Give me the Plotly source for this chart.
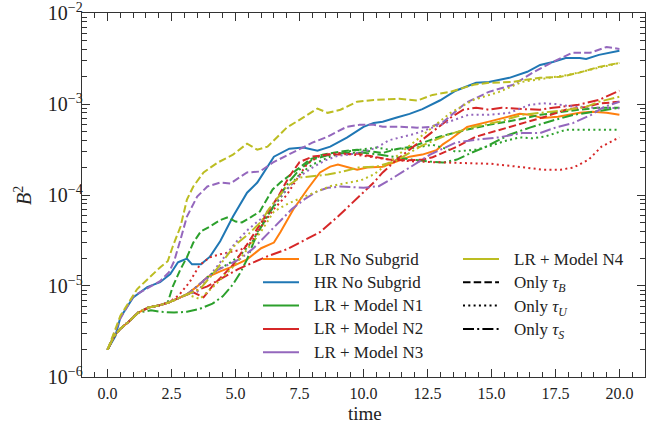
import plotly.graph_objects as go

# ---------------- data ----------------
t_lr = [0, 0.25, 0.5, 0.8, 1.2, 1.6, 2.0, 2.4, 2.8, 3.1, 3.5, 3.9, 4.4, 4.8, 5.45, 6.0, 6.5, 6.75, 7.25, 7.8, 8.3, 8.7, 9.0, 9.35, 9.75, 10.15, 10.75, 11.8, 12.3, 12.85, 13.1, 13.4, 14.05, 14.9, 15.7, 16.1, 16.5, 17.0, 17.6, 18.45, 18.95, 19.5, 20.0]
b2_lr = [2.0e-6, 2.8e-6, 3.4e-6, 4.0e-6, 5.1e-6, 5.8e-6, 6.1e-6, 6.6e-6, 7.4e-6, 8.1e-6, 9.9e-6, 1.25e-5, 1.45e-5, 1.6e-5, 1.96e-5, 2.6e-5, 3.0e-5, 3.9e-5, 6.9e-5, 1.15e-4, 1.77e-4, 2.05e-4, 2.16e-4, 2.05e-4, 1.9e-4, 2.0e-4, 2.05e-4, 2.64e-4, 2.78e-4, 3.1e-4, 3.6e-4, 4.1e-4, 5.6e-4, 6.4e-4, 7.25e-4, 7.8e-4, 7.6e-4, 7.0e-4, 7.25e-4, 8.0e-4, 8.2e-4, 8.0e-4, 7.6e-4]

t_hr = [0, 0.3, 0.5, 1.0, 1.55, 2.05, 2.45, 2.75, 2.85, 3.1, 3.3, 3.65, 4.0, 4.4, 4.9, 5.45, 5.85, 6.1, 6.5, 7.1, 7.65, 8.2, 8.7, 9.35, 10.0, 10.4, 10.75, 11.3, 11.8, 12.3, 13.0, 13.6, 14.4, 14.9, 15.7, 16.4, 16.9, 17.4, 17.9, 18.45, 18.7, 19.2, 19.7, 20.0]
b2_hr = [2.0e-6, 2.8e-6, 4.5e-6, 7.5e-6, 9.7e-6, 1.1e-5, 1.35e-5, 1.82e-5, 1.87e-5, 2.0e-5, 1.73e-5, 1.73e-5, 2.1e-5, 3.1e-5, 5.8e-5, 1.06e-4, 1.37e-4, 1.77e-4, 2.64e-4, 3.23e-4, 3.32e-4, 3.07e-4, 3.4e-4, 4.27e-4, 5.6e-4, 6.2e-4, 6.4e-4, 7.1e-4, 7.8e-4, 8.8e-4, 1.1e-3, 1.4e-3, 1.71e-3, 1.75e-3, 1.94e-3, 2.26e-3, 2.69e-3, 2.9e-3, 3.21e-3, 3.21e-3, 3.13e-3, 3.47e-3, 3.74e-3, 3.84e-3]

# Model N1 (green)
t_n1_b = [0, 0.25, 0.5, 0.8, 1.2, 1.6, 2.0, 2.35, 2.55, 2.85, 3.1, 3.35, 3.65, 4.0, 4.4, 4.7, 5.0, 5.25, 5.6, 5.95, 6.45, 6.75, 7.4, 7.9, 8.4, 9.1, 9.75, 10.25, 10.75, 11.3, 11.9, 13.0, 14.0, 14.9, 16.0, 16.9, 17.7, 18.4, 19.2, 20.0]
b2_n1_b = [2.0e-6, 2.8e-6, 3.4e-6, 4.0e-6, 5.1e-6, 5.8e-6, 6.1e-6, 6.6e-6, 9.9e-6, 1.53e-5, 2.07e-5, 3.0e-5, 4.0e-5, 4.5e-5, 5.3e-5, 5.7e-5, 5.1e-5, 5.0e-5, 5.7e-5, 6.6e-5, 1.15e-4, 1.37e-4, 1.9e-4, 2.45e-4, 2.78e-4, 3.0e-4, 3.15e-4, 3.0e-4, 2.9e-4, 3.2e-4, 3.4e-4, 4.4e-4, 5.2e-4, 5.9e-4, 6.7e-4, 7.6e-4, 8.2e-4, 8.65e-4, 9.1e-4, 9.1e-4]
t_n1_u = [0, 0.25, 0.5, 0.8, 1.2, 1.6, 2.0, 2.4, 2.8, 3.1, 3.5, 3.9, 4.3, 4.7, 5.2, 5.7, 6.0, 6.5, 7.0, 7.5, 8.0, 8.7, 9.3, 10.0, 10.5, 11.0, 12.0, 12.7, 13.6, 14.4, 15.0, 15.5, 16.1, 16.6, 17.1, 17.9, 19.0, 20.0]
b2_n1_u = [2.0e-6, 2.8e-6, 3.4e-6, 4.0e-6, 5.1e-6, 5.8e-6, 6.1e-6, 6.6e-6, 7.4e-6, 8.1e-6, 9.9e-6, 1.25e-5, 1.53e-5, 1.73e-5, 2.2e-5, 3.2e-5, 4.7e-5, 7.5e-5, 1.15e-4, 1.68e-4, 2.16e-4, 2.64e-4, 3.0e-4, 3.15e-4, 3.32e-4, 3.15e-4, 3.3e-4, 3.57e-4, 3.0e-4, 3.15e-4, 3.5e-4, 3.9e-4, 4.3e-4, 4.2e-4, 4.4e-4, 5.2e-4, 5.2e-4, 5.2e-4]
t_n1_s = [0, 0.25, 0.5, 0.8, 1.2, 1.7, 2.1, 2.6, 3.1, 3.6, 4.1, 4.5, 4.9, 5.2, 5.45, 5.7, 5.95, 6.35, 6.75, 7.1, 7.5, 8.0, 8.7, 9.35, 10.0, 10.6, 11.3, 11.9, 12.6, 13.1, 13.65, 14.2, 14.7, 15.2, 15.7, 16.5, 17.4, 18.2, 19.0, 20.0]
b2_n1_s = [2.0e-6, 2.8e-6, 3.4e-6, 4.0e-6, 5.1e-6, 5.4e-6, 5.2e-6, 5.1e-6, 5.2e-6, 5.6e-6, 6.4e-6, 7.7e-6, 1.04e-5, 1.42e-5, 1.96e-5, 3.0e-5, 4.2e-5, 6.6e-5, 1.01e-4, 1.41e-4, 1.9e-4, 2.45e-4, 2.78e-4, 2.92e-4, 2.92e-4, 2.78e-4, 2.58e-4, 2.45e-4, 2.33e-4, 2.27e-4, 2.45e-4, 2.9e-4, 3.3e-4, 3.86e-4, 4.6e-4, 5.5e-4, 6.6e-4, 7.6e-4, 8.2e-4, 9.1e-4]

# Model N2 (red)
t_n2_b = [0, 0.25, 0.5, 0.8, 1.2, 1.6, 2.0, 2.4, 2.8, 3.1, 3.35, 3.75, 4.1, 4.5, 4.9, 5.5, 6.1, 6.7, 7.1, 7.5, 8.0, 8.6, 9.1, 9.75, 10.4, 11.0, 11.7, 12.3, 12.7, 13.65, 14.4, 15.3, 16.2, 17.1, 17.9, 18.7, 19.2, 20.0]
b2_n2_b = [2.0e-6, 2.8e-6, 3.4e-6, 4.0e-6, 5.1e-6, 5.8e-6, 6.1e-6, 6.6e-6, 7.4e-6, 8.1e-6, 8.5e-6, 7.5e-6, 1.0e-5, 1.3e-5, 1.7e-5, 3.0e-5, 5.5e-5, 1.0e-4, 1.6e-4, 2.3e-4, 2.64e-4, 2.78e-4, 2.78e-4, 2.85e-4, 2.64e-4, 2.45e-4, 2.4e-4, 2.45e-4, 2.6e-4, 3.4e-4, 4.38e-4, 5.2e-4, 6.2e-4, 7.25e-4, 8.65e-4, 9.3e-4, 1.01e-3, 1.06e-3]
t_n2_u = [0, 0.25, 0.5, 0.8, 1.2, 1.6, 2.0, 2.4, 2.8, 3.2, 3.6, 4.0, 4.4, 4.8, 5.2, 5.6, 6.0, 6.5, 7.0, 7.4, 7.8, 8.3, 9.0, 10.0, 11.0, 12.0, 13.0, 14.0, 15.0, 16.0, 17.0, 17.7, 18.2, 18.8, 19.3, 20.0]
b2_n2_u = [2.0e-6, 2.8e-6, 3.4e-6, 4.0e-6, 5.1e-6, 5.8e-6, 6.1e-6, 6.6e-6, 8.0e-6, 1.1e-5, 1.7e-5, 2.07e-5, 2.23e-5, 2.34e-5, 2.5e-5, 3.0e-5, 4.5e-5, 7.0e-5, 1.0e-4, 1.5e-4, 2.2e-4, 2.7e-4, 2.9e-4, 2.7e-4, 2.45e-4, 2.33e-4, 2.3e-4, 2.27e-4, 2.2e-4, 2.05e-4, 1.9e-4, 1.9e-4, 2.0e-4, 2.45e-4, 3.4e-4, 4.3e-4]
t_n2_s = [0, 0.25, 0.5, 0.8, 1.2, 1.6, 2.0, 2.4, 2.8, 3.1, 3.5, 3.9, 4.4, 5.1, 5.7, 6.25, 7.0, 7.5, 8.3, 9.0, 9.5, 10.0, 10.4, 10.75, 11.3, 11.8, 12.3, 12.9, 13.4, 13.9, 14.4, 14.9, 15.4, 16.2, 16.9, 17.4, 18.4, 19.2, 20.0]
b2_n2_s = [2.0e-6, 2.8e-6, 3.4e-6, 4.0e-6, 5.1e-6, 5.8e-6, 6.1e-6, 6.6e-6, 7.4e-6, 8.1e-6, 9.0e-6, 9.9e-6, 1.19e-5, 1.53e-5, 1.82e-5, 2.12e-5, 2.53e-5, 3.0e-5, 3.9e-5, 5.8e-5, 7.9e-5, 1.05e-4, 1.37e-4, 1.77e-4, 2.45e-4, 3.15e-4, 4.06e-4, 5.6e-4, 7.07e-4, 8.65e-4, 9.1e-4, 8.65e-4, 9.1e-4, 8.8e-4, 8.65e-4, 9.1e-4, 9.8e-4, 1.11e-3, 1.4e-3]

# Model N3 (purple)
t_n3_b = [0, 0.5, 1.0, 1.7, 2.05, 2.4, 2.6, 2.85, 3.1, 3.5, 3.9, 4.4, 4.8, 5.45, 5.95, 6.45, 7.25, 8.0, 8.6, 9.35, 9.85, 10.4, 10.75, 11.4, 12.1, 12.6, 13.1, 13.6, 14.0, 14.9, 15.85, 16.6, 17.4, 18.15, 18.85, 19.5, 20.0]
b2_n3_b = [2.0e-6, 4.4e-6, 7.7e-6, 9.9e-6, 1.13e-5, 1.42e-5, 1.87e-5, 3.25e-5, 5.8e-5, 9.6e-5, 1.24e-4, 1.37e-4, 1.34e-4, 1.77e-4, 1.81e-4, 2.27e-4, 2.92e-4, 3.76e-4, 4.38e-4, 5.63e-4, 5.9e-4, 5.9e-4, 5.63e-4, 5.63e-4, 5.5e-4, 5.6e-4, 6.3e-4, 8.3e-4, 1.03e-3, 1.36e-3, 1.63e-3, 2.2e-3, 2.9e-3, 3.65e-3, 3.65e-3, 4.24e-3, 4.03e-3]
t_n3_u = [0, 0.25, 0.5, 0.8, 1.2, 1.6, 2.0, 2.4, 2.8, 3.1, 3.5, 4.0, 4.5, 5.0, 5.5, 6.0, 6.5, 7.0, 7.5, 8.0, 8.5, 9.0, 9.5, 10.0, 10.5, 11.0, 12.0, 13.0, 14.1, 14.9, 15.7, 16.5, 17.0, 17.5, 18.0, 19.0, 20.0]
b2_n3_u = [2.0e-6, 2.8e-6, 3.4e-6, 4.0e-6, 5.1e-6, 5.8e-6, 6.1e-6, 6.6e-6, 7.4e-6, 8.1e-6, 8.6e-6, 1.3e-5, 2.0e-5, 3.0e-5, 4.2e-5, 5.5e-5, 8.0e-5, 1.15e-4, 1.6e-4, 2.0e-4, 2.4e-4, 2.7e-4, 2.8e-4, 3.0e-4, 3.3e-4, 4.0e-4, 4.7e-4, 5.9e-4, 7.6e-4, 7.6e-4, 8.0e-4, 9.8e-4, 1.02e-3, 1.0e-3, 9.5e-4, 9.1e-4, 9.0e-4]
t_n3_s = [0, 0.25, 0.5, 0.8, 1.2, 1.6, 2.0, 2.4, 2.8, 3.1, 3.5, 3.9, 4.3, 4.7, 5.2, 5.7, 6.2, 6.7, 7.2, 7.7, 8.2, 8.6, 9.1, 9.6, 10.0, 10.6, 11.0, 11.8, 12.6, 13.6, 14.4, 15.3, 16.2, 16.9, 17.5, 18.2, 18.9, 19.4, 20.0]
b2_n3_s = [2.0e-6, 2.8e-6, 3.4e-6, 4.0e-6, 5.1e-6, 5.8e-6, 6.1e-6, 6.6e-6, 7.4e-6, 8.1e-6, 9.9e-6, 1.25e-5, 1.5e-5, 1.7e-5, 2.0e-5, 2.6e-5, 3.6e-5, 5.0e-5, 7.0e-5, 9.0e-5, 1.1e-4, 1.2e-4, 1.24e-4, 1.22e-4, 1.2e-4, 1.25e-4, 1.45e-4, 2.0e-4, 2.78e-4, 3.76e-4, 4.06e-4, 4.3e-4, 4.8e-4, 4.8e-4, 5.5e-4, 6.2e-4, 7.6e-4, 9.3e-4, 1.06e-3]

# Model N4 (olive)
t_n4_b = [0, 0.5, 1.15, 2.05, 2.35, 2.55, 2.85, 3.1, 3.35, 3.75, 4.3, 4.9, 5.45, 5.85, 6.25, 7.0, 7.5, 8.2, 8.6, 9.1, 9.75, 10.4, 11.4, 12.1, 12.7, 13.4, 14.3, 14.9, 15.8, 16.9, 17.7, 18.4, 19.2, 20.0]
b2_n4_b = [2.0e-6, 4.7e-6, 9.2e-6, 1.6e-5, 1.87e-5, 2.73e-5, 4.5e-5, 8.9e-5, 1.24e-4, 1.77e-4, 2.27e-4, 2.78e-4, 3.66e-4, 3.15e-4, 3.4e-4, 5.5e-4, 6.7e-4, 8.9e-4, 8.0e-4, 8.65e-4, 1.06e-3, 1.11e-3, 1.14e-3, 1.09e-3, 1.26e-3, 1.36e-3, 1.63e-3, 1.71e-3, 1.75e-3, 1.94e-3, 1.99e-3, 2.2e-3, 2.56e-3, 2.83e-3]
t_n4_u = [0, 0.25, 0.5, 0.8, 1.2, 1.6, 2.0, 2.4, 2.8, 3.1, 3.6, 4.1, 5.0, 6.0, 6.5, 7.0, 7.6, 8.2, 8.7, 9.3, 9.9, 10.4, 11.0, 11.6, 12.2, 12.7, 13.4, 14.3, 15.3, 16.2, 17.0, 18.0, 19.0, 20.0]
b2_n4_u = [2.0e-6, 2.8e-6, 3.4e-6, 4.0e-6, 5.1e-6, 5.8e-6, 6.1e-6, 6.6e-6, 7.4e-6, 8.1e-6, 7.2e-6, 9.6e-6, 1.73e-5, 3.98e-5, 6.6e-5, 7.9e-5, 9.4e-5, 1.1e-4, 1.25e-4, 1.35e-4, 1.45e-4, 1.68e-4, 2.27e-4, 3.15e-4, 4.3e-4, 5.6e-4, 8.0e-4, 1.11e-3, 1.36e-3, 1.75e-3, 1.89e-3, 2.09e-3, 2.43e-3, 2.83e-3]
t_n4_s = [0, 0.25, 0.5, 0.8, 1.2, 1.6, 2.0, 2.4, 2.8, 3.1, 3.6, 4.1, 4.5, 5.0, 5.5, 6.0, 6.3, 7.0, 7.5, 8.0, 8.6, 9.2, 9.8, 10.5, 11.2, 12.3, 13.3, 14.3, 15.3, 16.2, 17.0, 18.0, 18.7, 19.2, 20.0]
b2_n4_s = [2.0e-6, 2.8e-6, 3.4e-6, 4.0e-6, 5.1e-6, 5.8e-6, 6.1e-6, 6.6e-6, 7.4e-6, 8.1e-6, 9.2e-6, 1.34e-5, 1.87e-5, 2.85e-5, 3.7e-5, 5.1e-5, 7.0e-5, 1.24e-4, 1.55e-4, 1.6e-4, 1.68e-4, 1.81e-4, 2.0e-4, 2.05e-4, 2.33e-4, 3.5e-4, 4.6e-4, 5.6e-4, 6.4e-4, 7.6e-4, 8.0e-4, 8.65e-4, 9.3e-4, 1.06e-3, 1.2e-3]

x_ticks = [0.0, 2.5, 5.0, 7.5, 10.0, 12.5, 15.0, 17.5, 20.0]
color_names = ["LR No Subgrid", "HR No Subgrid", "LR + Model N1", "LR + Model N2", "LR + Model N3", "LR + Model N4"]
style_names = ["Only <i>τ<sub>B</sub></i>", "Only <i>τ<sub>U</sub></i>", "Only <i>τ<sub>S</sub></i>"]

# ---------------- styling ----------------
FONT = "Liberation Serif"
TXT = "#222"
C = {"orange": "#ff7f0e", "blue": "#1f77b4", "green": "#2ca02c",
     "red": "#d62728", "purple": "#9467bd", "olive": "#bcbd22"}
DASH = {"b": "7.5px,3.2px", "u": "2px,3.3px", "s": "11px,3.2px,2px,3.2px"}
LW = 2

W, H = 665, 425
ML, MR, MT, MB = 82, 20, 13, 48
PW, PH = W - ML - MR, H - MT - MB

def px_x(px):
    return (px - ML) / PW

def px_y(py):
    return (H - MB - py) / PH

fig = go.Figure()

def add(t, v, color, dash="solid"):
    fig.add_trace(go.Scatter(x=t, y=v, mode="lines", showlegend=False,
                             line=dict(color=color, width=LW, dash=dash)))

add(t_lr, b2_lr, C["orange"])
add(t_hr, b2_hr, C["blue"])
series = [
    ("green", t_n1_b, b2_n1_b, t_n1_u, b2_n1_u, t_n1_s, b2_n1_s),
    ("red", t_n2_b, b2_n2_b, t_n2_u, b2_n2_u, t_n2_s, b2_n2_s),
    ("purple", t_n3_b, b2_n3_b, t_n3_u, b2_n3_u, t_n3_s, b2_n3_s),
    ("olive", t_n4_b, b2_n4_b, t_n4_u, b2_n4_u, t_n4_s, b2_n4_s),
]
for col, tb, vb, tu, vu, ts, vs in series:
    add(tb, vb, C[col], DASH["b"])
    add(tu, vu, C[col], DASH["u"])
    add(ts, vs, C[col], DASH["s"])

# ---------------- legend (two columns, drawn as keys + labels) ----------------
leg_entries = [
    (0, 0, color_names[0], C["orange"], "solid"),
    (0, 1, color_names[1], C["blue"], "solid"),
    (0, 2, color_names[2], C["green"], "solid"),
    (0, 3, color_names[3], C["red"], "solid"),
    (0, 4, color_names[4], C["purple"], "solid"),
    (1, 0, color_names[5], C["olive"], "solid"),
    (1, 1, style_names[0], "black", DASH["b"]),
    (1, 2, style_names[1], "black", DASH["u"]),
    (1, 3, style_names[2], "black", DASH["s"]),
]
col_x0 = [263, 463]
row_y0, row_dy = 259, 23.3
shapes, annots = [], []
for col, row, label, color, dash in leg_entries:
    xl = col_x0[col]
    yc = row_y0 + row * row_dy
    shapes.append(dict(type="line", xref="paper", yref="paper",
                       x0=px_x(xl), x1=px_x(xl + 36), y0=px_y(yc), y1=px_y(yc),
                       line=dict(color=color, width=LW, dash=dash)))
    has_sub = "<sub>" in label
    annots.append(dict(xref="paper", yref="paper", x=px_x(xl + 49), y=px_y(yc),
                       xanchor="left", yanchor="middle", showarrow=False,
                       yshift=-2 if has_sub else 0,
                       text=label, font=dict(family=FONT, size=17, color=TXT)))

axis_common = dict(showline=True, linecolor="#333", linewidth=1.3, mirror="allticks",
                   ticks="inside", ticklen=8, tickwidth=1, tickcolor="#333",
                   showgrid=False, zeroline=False, automargin=False,
                   ticklabeloverflow="allow",
                   tickfont=dict(family=FONT, size=16, color=TXT))

fig.update_xaxes(range=[-1, 21], tickvals=x_ticks, ticktext=[f"{v:.1f}" for v in x_ticks],
                 minor=dict(ticks="inside", ticklen=5, tickwidth=1, tickcolor="#333", dtick=0.5, tick0=0),
                 ticklabelstandoff=2,
                 **axis_common)
fig.update_yaxes(type="log", range=[-6.0004, -1.9996], dtick=1, exponentformat="power",
                 minor=dict(ticks="inside", ticklen=5, tickwidth=1, tickcolor="#333", dtick="D1"),
                 ticklabelstandoff=-5,
                 **axis_common)

# axis titles
annots.append(dict(xref="paper", yref="paper", x=px_x(365), y=px_y(413), xanchor="center", yanchor="middle",
                   showarrow=False, text="time", font=dict(family=FONT, size=19, color=TXT)))
annots.append(dict(xref="paper", yref="paper", x=px_x(23), y=px_y(196), xanchor="center", yanchor="middle",
                   showarrow=False, textangle=-90, text="<i>B</i><sup>2</sup>",
                   font=dict(family=FONT, size=20, color=TXT)))

fig.update_layout(
    width=W, height=H,
    margin=dict(l=ML, r=MR, t=MT, b=MB),
    paper_bgcolor="white", plot_bgcolor="white",
    showlegend=False,
    shapes=shapes, annotations=annots,
)

fig.write_html("out.html")
